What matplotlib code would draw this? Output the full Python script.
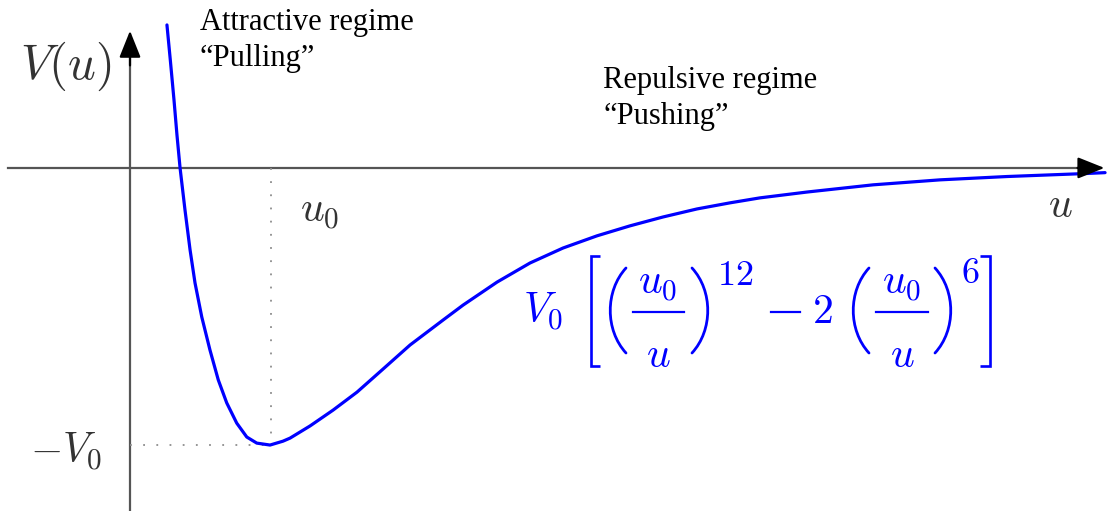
import matplotlib
matplotlib.use('Agg')
import matplotlib.pyplot as plt
from matplotlib.path import Path
from matplotlib.patches import PathPatch

plt.rcParams['mathtext.fontset'] = 'cm'

# potential curve, u in units of u0, V in units of V0
u_vals = [0.262, 0.287, 0.312, 0.333, 0.355, 0.390, 0.426, 0.461, 0.509, 0.567,
          0.626, 0.686, 0.757, 0.828, 0.899, 0.993, 1.085, 1.135, 1.277, 1.440,
          1.610, 1.794, 1.986, 2.220, 2.362, 2.603, 2.837, 3.071, 3.312, 3.546,
          3.780, 4.021, 4.255, 4.468, 4.801, 5.270, 5.745, 6.220, 6.787, 6.915]
V_vals = [0.516, 0.383, 0.245, 0.119, 0.0, -0.152, -0.296, -0.415, -0.538, -0.657,
          -0.765, -0.848, -0.921, -0.971, -0.993, -1.0, -0.986, -0.975, -0.931, -0.874,
          -0.809, -0.726, -0.639, -0.549, -0.495, -0.412, -0.343, -0.289, -0.245, -0.209,
          -0.177, -0.148, -0.126, -0.108, -0.087, -0.061, -0.043, -0.031, -0.020, -0.017]

u0 = 1.0
V0 = 1.0

fig = plt.figure(figsize=(11.1, 5.11), dpi=100)
ax = fig.add_axes([0, 0, 1, 1])
ax.set_xlim(-0.922, 6.95)
ax.set_ylim(-1.238, 0.606)
ax.axis('off')

# axes with arrow heads
axis_col = '#555555'
head = '-|>,head_length=0.55,head_width=0.22'
ax.plot([-0.865, 6.85], [0, 0], color=axis_col, lw=1.6)
ax.plot([0, 0], [-1.238, 0.42], color=axis_col, lw=1.6)
ax.annotate('', xy=(6.93, 0), xytext=(6.70, 0), annotation_clip=False,
            arrowprops=dict(arrowstyle=head, color='black', lw=1.6, mutation_scale=30))
ax.annotate('', xy=(0, 0.505), xytext=(0, 0.36), annotation_clip=False,
            arrowprops=dict(arrowstyle=head, color='black', lw=1.6, mutation_scale=30))

# guides to the minimum
ax.plot([0, u0], [-V0, -V0], color='#8c8c8c', lw=1.3, ls=(0, (1, 6.3)))
ax.plot([u0, u0], [0, -V0], color='#8c8c8c', lw=1.3, ls=(0, (1, 6.3)))

ax.plot(u_vals, V_vals, color='#0000ff', lw=2.3, solid_capstyle='round',
        solid_joinstyle='round')

serif = dict(family='Liberation Serif', fontsize=22, color='black', va='baseline', ha='left')
ax.text(0.496, 0.498, 'Attractive regime', **serif)
ax.text(0.496, 0.368, '\u201cPulling\u201d', **serif)
ax.text(3.355, 0.289, 'Repulsive regime', **serif)
ax.text(3.355, 0.160, '\u201cPushing\u201d', **serif)

mcol = '#333333'
ax.text(-0.78, 0.368, r'$V(u)$', fontsize=35, color=mcol, ha='left', va='center')
ax.text(1.206, -0.195, r'$u_0$', fontsize=30, color=mcol, ha='left', va='baseline')
ax.text(-0.709, -1.065, r'$-V_0$', fontsize=30, color=mcol, ha='left', va='baseline')
ax.text(6.51, -0.177, r'$u$', fontsize=30, color=mcol, ha='left', va='baseline')

# formula, typeset piece by piece on a pixel-unit overlay (y pointing down)
fx = fig.add_axes([0, 0, 1, 1], facecolor='none')
fx.set_xlim(0, 1110)
fx.set_ylim(511, 0)
fx.axis('off')

blue = '#0000ff'
mt = dict(color=blue, fontsize=30)


def bracket(x, x_tip, top, bot):
    fx.plot([x_tip, x, x, x_tip], [top, top, bot, bot], color=blue, lw=1.9,
            solid_joinstyle='miter', solid_capstyle='butt')


def paren(x_end, x_ctrl, top, bot):
    h = bot - top
    p = Path([(x_end, top), (x_ctrl, top + 0.27 * h), (x_ctrl, bot - 0.27 * h), (x_end, bot)],
             [Path.MOVETO, Path.CURVE4, Path.CURVE4, Path.CURVE4])
    fx.add_patch(PathPatch(p, facecolor='none', edgecolor=blue, lw=2.0, capstyle='round'))


def frac(xc, x0, x1):
    fx.text(xc, 304, r'$u_0$', ha='center', va='bottom', **mt)
    fx.plot([x0, x1], [312, 312], color=blue, lw=1.6)
    fx.text(xc, 334, r'$u$', ha='center', va='top', **mt)


fx.text(523, 323, r'$V_0$', ha='left', va='baseline', **mt)
bracket(590.5, 600, 256, 366)
paren(626, 605, 268, 353)
frac(658, 633, 684)
paren(692, 713, 268, 353)
fx.text(717, 258, r'$12$', ha='left', va='top', color=blue, fontsize=26)
fx.plot([771, 800], [312, 312], color=blue, lw=1.6)
fx.text(812, 323, r'$2$', ha='left', va='baseline', **mt)
paren(869, 848, 268, 353)
frac(902, 876, 928)
paren(935, 956, 268, 353)
fx.text(961, 256, r'$6$', ha='left', va='top', color=blue, fontsize=26)
bracket(990, 980, 256, 366)

fig.savefig('out.png', dpi=100)
